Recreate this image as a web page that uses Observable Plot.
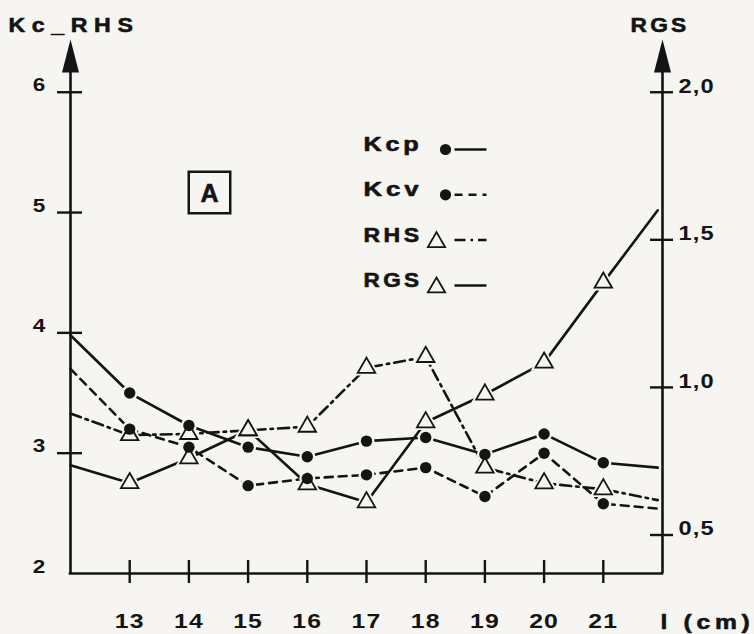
<!DOCTYPE html>
<html>
<head>
<meta charset="utf-8">
<script src="https://cdn.jsdelivr.net/npm/d3@7"></script>
<script src="https://cdn.jsdelivr.net/npm/@observablehq/plot@0.6"></script>
<style>
  html, body { margin: 0; padding: 0; background: #f6f5f1; }
</style>
</head>
<body>
<div id="chart"></div>
<script>
// ---- data ----
const lengths = [12, 13, 14, 15, 16, 17, 18, 19, 20, 21, 21.92];     // l (cm); first/last = line ends without markers
const kcp = [3.98, 3.50, 3.23, 3.05, 2.97, 3.10, 3.13, 2.99, 3.16, 2.92, 2.88];
const kcv = [3.70, 3.20, 3.05, 2.73, 2.79, 2.82, 2.88, 2.64, 3.00, 2.58, 2.54];
const rhs = [3.33, 3.15, 3.16, 3.19, 3.22, 3.71, 3.80, 2.88, 2.75, 2.70, 2.61];
const rgs = [0.736, 0.676, 0.760, 0.855, 0.672, 0.611, 0.882, 0.976, 1.084, 1.355, 1.600];
const xTicks = [13, 14, 15, 16, 17, 18, 19, 20, 21];
const kcTicks = [2, 3, 4, 5, 6];
const rgsTicks = [0.5, 1.0, 1.5, 2.0];
const seriesNames = ["Kcp", "Kcv", "RHS", "RGS"];
const titleLeft = "Kc_RHS";
const titleRight = "RGS";
const unitLabel = "l (cm)";
const panelLetter = "A";

// ---- scales / styling ----
const ink = "#141414";
const paper = "#f6f5f1";
const X_DOMAIN = [12, 22];
const Y_DOMAIN = [2, 6.43];
// right axis (RGS) drawn on the same vertical scale as Kc–RHS
const rgsToKc = d3.scaleLinear().domain([0.5, 2.0]).range([2.32, 6.0]);
const fmtComma = v => d3.format(".1f")(v).replace(".", ",");

function rows(values, conv = v => v) {
  return lengths.map((l, i) => ({l, v: conv(values[i]), marker: i > 0 && i < lengths.length - 1}));
}
const series = {
  Kcp: rows(kcp),
  Kcv: rows(kcv),
  RHS: rows(rhs),
  RGS: rows(rgs, v => rgsToKc(v))
};
const styleOf = {
  Kcp: {dash: null, symbol: "circle"},
  Kcv: {dash: "8,6", symbol: "circle"},
  RHS: {dash: "11,5,2.5,5", symbol: "triangle"},
  RGS: {dash: null, symbol: "triangle"}
};
const markersOnly = name => series[name].filter(d => d.marker);

const arrowHead = {draw(ctx) { ctx.moveTo(0, -1); ctx.lineTo(8.5, 32); ctx.lineTo(-8.5, 32); ctx.closePath(); }};
const legendLine = {draw(ctx) { ctx.moveTo(0, 0); ctx.lineTo(32, 0); }};
const font = {fontFamily: "Liberation Sans, Arial, sans-serif", fontWeight: "bold", stroke: ink, strokeWidth: 0.6};

const marks = [];
// axes lines
marks.push(Plot.ruleX([X_DOMAIN[0], X_DOMAIN[1]], {x: d => d, y1: () => Y_DOMAIN[0], y2: () => Y_DOMAIN[1] - 0.15, stroke: ink, strokeWidth: 2.6}));
marks.push(Plot.ruleY([Y_DOMAIN[0]], {y: d => d, x1: () => X_DOMAIN[0], x2: () => X_DOMAIN[1], stroke: ink, strokeWidth: 2.6, insetLeft: -1.3, insetRight: -1.3}));
marks.push(Plot.dot([X_DOMAIN[0], X_DOMAIN[1]], {x: d => d, y: () => Y_DOMAIN[1], symbol: arrowHead, fill: ink, stroke: null}));
// crossing ticks
marks.push(Plot.ruleY(kcTicks.filter(d => d > Y_DOMAIN[0]), {y: d => d, x1: () => X_DOMAIN[0], x2: () => X_DOMAIN[0], insetLeft: -13, insetRight: -12, stroke: ink, strokeWidth: 2.4}));
marks.push(Plot.ruleY(rgsTicks.map(v => rgsToKc(v)), {y: d => d, x1: () => X_DOMAIN[1], x2: () => X_DOMAIN[1], insetLeft: -12, insetRight: -11, stroke: ink, strokeWidth: 2.4}));
marks.push(Plot.ruleX(xTicks, {x: d => d, y1: () => Y_DOMAIN[0], y2: () => Y_DOMAIN[0], insetTop: -13, insetBottom: -10, stroke: ink, strokeWidth: 2.4}));
// tick labels
marks.push(Plot.axisY(kcTicks, {anchor: "left", tickSize: 0, tickPadding: 24, dy: -7, fontSize: 19, fill: ink, tickFormat: d => String(d), ...font}));
marks.push(Plot.axisY(rgsTicks.map(v => rgsToKc(v)), {anchor: "right", tickSize: 0, tickPadding: 16, dy: -6, fontSize: 20, fill: ink, tickFormat: d => fmtComma(rgsToKc.invert(d)), ...font}));
marks.push(Plot.axisX(xTicks, {anchor: "bottom", tickSize: 0, tickPadding: 40, fontSize: 21, fill: ink, tickFormat: d => String(d), ...font}));

// series lines
for (const name of seriesNames) {
  marks.push(Plot.line(series[name], {x: "l", y: "v", stroke: ink, strokeWidth: 2.6, strokeDasharray: styleOf[name].dash}));
}
// halos (gaps around markers)
for (const name of seriesNames) {
  const tri = styleOf[name].symbol === "triangle";
  marks.push(Plot.dot(markersOnly(name), {x: "l", y: "v", symbol: styleOf[name].symbol, r: tri ? 10 : 8, fill: paper, stroke: null}));
}
// markers: triangles first, dots on top
for (const name of ["RHS", "RGS"]) {
  marks.push(Plot.dot(markersOnly(name), {x: "l", y: "v", symbol: "triangle", r: 6.5, fill: paper, stroke: ink, strokeWidth: 1.8}));
}
for (const name of ["Kcp", "Kcv"]) {
  marks.push(Plot.dot(markersOnly(name), {x: "l", y: "v", symbol: "circle", r: 5.7, fill: ink, stroke: null}));
}

// titles
marks.push(Plot.text([titleLeft], {text: d => d, frameAnchor: "top-left", dx: -62, dy: -15, textAnchor: "start", lineAnchor: "middle", fontSize: 21, fill: ink, ...font}));
marks.push(Plot.text([titleRight], {text: d => d, frameAnchor: "top-right", dx: -32, dy: -15, textAnchor: "start", lineAnchor: "middle", fontSize: 21, fill: ink, ...font}));
marks.push(Plot.text([unitLabel], {text: d => d, frameAnchor: "bottom-right", dx: -2, dy: 49, textAnchor: "start", lineAnchor: "middle", fontSize: 21, fill: ink, ...font}));

// panel letter in a box
marks.push(Plot.dot([panelLetter], {frameAnchor: "top-left", dx: 139, dy: 152, symbol: "square", r: 23.4, fill: paper, stroke: ink, strokeWidth: 2.5}));
marks.push(Plot.text([panelLetter], {text: d => d, frameAnchor: "top-left", dx: 139, dy: 153, textAnchor: "middle", lineAnchor: "middle", fontSize: 25, fill: ink, ...font}));

// legend
seriesNames.forEach((name, i) => {
  const dy = 104 + i * 45.3;
  const st = styleOf[name];
  const tri = st.symbol === "triangle";
  marks.push(Plot.text([name], {text: d => d, frameAnchor: "top-left", dx: 293, dy, textAnchor: "start", lineAnchor: "middle", fontSize: 20, fill: ink, ...font}));
  marks.push(Plot.dot([name], {frameAnchor: "top-left", dx: 384, dy: dy + 5, symbol: legendLine, stroke: ink, fill: "none", strokeWidth: 2.5, strokeDasharray: st.dash}));
  marks.push(Plot.dot([name], {frameAnchor: "top-left", dx: tri ? 366 : 375, dy: dy + (tri ? 7 : 5), symbol: st.symbol, r: tri ? 6.4 : 5.6, fill: tri ? paper : ink, stroke: tri ? ink : null, strokeWidth: 1.8}));
});

const chart = Plot.plot({
  width: 754,
  height: 634,
  marginLeft: 70,
  marginRight: 92,
  marginTop: 40,
  marginBottom: 61,
  x: {domain: X_DOMAIN, label: null},
  y: {domain: Y_DOMAIN, label: null},
  style: {background: paper, color: ink, fontFamily: "Liberation Sans, Arial, sans-serif", fontSize: "20px", overflow: "visible"},
  marks
});
document.getElementById("chart").append(chart);

// wide, extended lettering of the original: tracking + horizontal stretch to the measured widths
const tracking = new Map([[titleLeft, 6], [titleRight, 3], [unitLabel, 4], ...seriesNames.map(n => [n, 3]), [panelLetter, 0]]);
const widths = new Map([[titleLeft, 125], [titleRight, 58], [unitLabel, 90], ...seriesNames.map(n => [n, 56])]);
d3.select(chart).selectAll("text").each(function() {
  const t = this.textContent;
  const s = tracking.has(t) ? tracking.get(t) : 1;
  if (s) this.setAttribute("letter-spacing", s);
  if (t === panelLetter) return;
  const natural = this.getComputedTextLength();
  const w = widths.has(t) ? widths.get(t) + s : natural * 1.18;
  this.setAttribute("textLength", w.toFixed(1));
  this.setAttribute("lengthAdjust", "spacingAndGlyphs");
});
</script>
</body>
</html>
